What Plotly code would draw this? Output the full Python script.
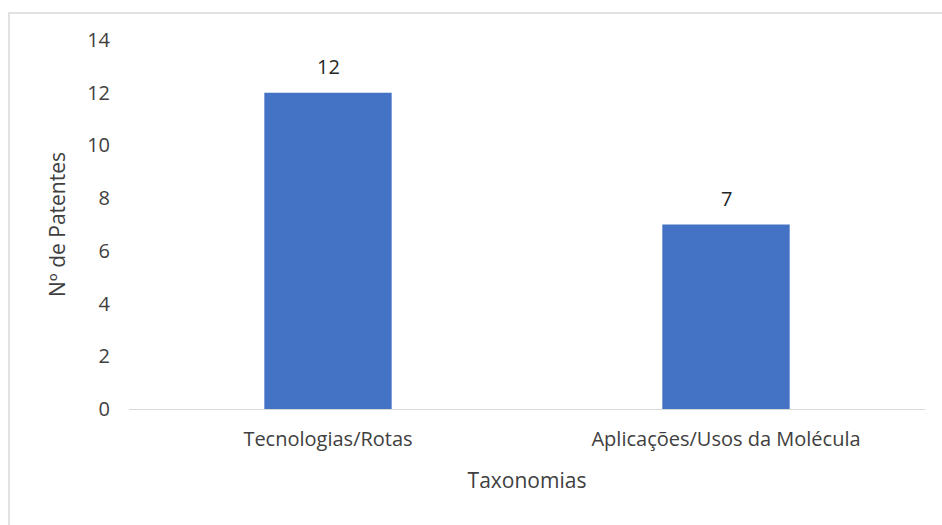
import plotly.graph_objects as go

# Patent counts by taxonomy group
categorias = ["Tecnologias/Rotas", "Aplicações/Usos da Molécula"]
patentes = [12, 7]
y_ticks = [0, 2, 4, 6, 8, 10, 12, 14]

FONT = "Open Sans"
TEXT = "#404040"
BAR = "#4472C4"
FRAME = "#D9D9D9"
SIZE = 21

fig = go.Figure(
    go.Bar(
        x=categorias,
        y=patentes,
        marker=dict(color=BAR, line=dict(width=0)),
        hoverinfo="x+y",
    )
)

# value labels placed just above each bar
for cat, val in zip(categorias, patentes):
    fig.add_annotation(
        x=cat, y=val, text=str(val), showarrow=False,
        yanchor="bottom", yshift=11,
        font=dict(family=FONT, size=SIZE - 1, color="#262626"),
    )

fig.update_layout(
    width=942,
    height=525,
    margin=dict(l=129, r=17, t=40, b=116),
    paper_bgcolor="white",
    plot_bgcolor="white",
    bargap=0.68,
    showlegend=False,
    font=dict(family=FONT, size=SIZE, color=TEXT),
    xaxis=dict(
        showline=True,
        linecolor=FRAME,
        linewidth=1,
        showgrid=False,
        ticks="",
        ticklabelstandoff=12,
        tickfont=dict(family=FONT, size=SIZE - 1, color=TEXT),
        title=dict(text="Taxonomias", standoff=22,
                   font=dict(family=FONT, size=SIZE, color=TEXT)),
    ),
    yaxis=dict(
        range=[0, 14],
        tickvals=y_ticks,
        showline=False,
        showgrid=False,
        zeroline=False,
        ticks="",
        ticklabelstandoff=18,
        tickfont=dict(family=FONT, size=SIZE - 1, color=TEXT),
        title=dict(text="Nº de Patentes", standoff=15,
                   font=dict(family=FONT, size=SIZE, color=TEXT)),
    ),
    shapes=[
        # chart frame
        dict(type="rect", xref="paper", yref="paper",
             x0=-0.1508, x1=1.2, y0=-0.6, y1=1.0732,
             line=dict(color=FRAME, width=1.5), fillcolor="rgba(0,0,0,0)",
             layer="below"),
    ],
)

fig.write_html("out.html")
